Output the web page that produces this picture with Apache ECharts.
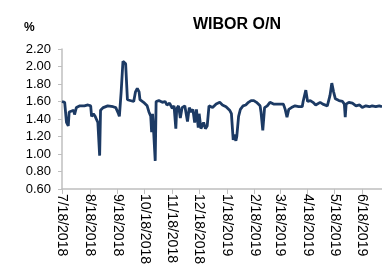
<!DOCTYPE html>
<html>
<head>
<meta charset="utf-8">
<script src="https://cdn.jsdelivr.net/npm/echarts@6/dist/echarts.min.js"></script>
<style>
  html, body { margin: 0; padding: 0; background: #fff; }
  #chart { width: 382px; height: 267px; }
</style>
</head>
<body>
<div id="chart"></div>
<script>
// tick labels on the date axis
const tickLabels = ['7/18/2018', '8/18/2018', '9/18/2018', '10/18/2018', '11/18/2018', '12/18/2018',
  '1/18/2019', '2/18/2019', '3/18/2019', '4/18/2019', '5/18/2019', '6/18/2019']

// WIBOR O/N
const dates = [
  '2018-07-18', '2018-07-21', '2018-07-23', '2018-07-25', '2018-07-26', '2018-07-28', '2018-07-31',
  '2018-08-01', '2018-08-03', '2018-08-07', '2018-08-12', '2018-08-16', '2018-08-19', '2018-08-20',
  '2018-08-22', '2018-08-24', '2018-08-25', '2018-08-27', '2018-08-29', '2018-08-30', '2018-09-02',
  '2018-09-07', '2018-09-13', '2018-09-16', '2018-09-19', '2018-09-20', '2018-09-22', '2018-09-24',
  '2018-09-26', '2018-09-27', '2018-09-29', '2018-09-30', '2018-10-06', '2018-10-08', '2018-10-10',
  '2018-10-12', '2018-10-13', '2018-10-17', '2018-10-21', '2018-10-23', '2018-10-25', '2018-10-26',
  '2018-10-27', '2018-10-28', '2018-10-30', '2018-10-31', '2018-11-03', '2018-11-07', '2018-11-10',
  '2018-11-12', '2018-11-15', '2018-11-18', '2018-11-20', '2018-11-22', '2018-11-23', '2018-11-25',
  '2018-11-27', '2018-11-29', '2018-12-02', '2018-12-05', '2018-12-07', '2018-12-09', '2018-12-11',
  '2018-12-13', '2018-12-15', '2018-12-17', '2018-12-18', '2018-12-20', '2018-12-23', '2018-12-25',
  '2018-12-27', '2018-12-29', '2019-01-02', '2019-01-06', '2019-01-10', '2019-01-13', '2019-01-17',
  '2019-01-21', '2019-01-23', '2019-01-25', '2019-01-26', '2019-01-28', '2019-01-29', '2019-01-31',
  '2019-02-02', '2019-02-05', '2019-02-08', '2019-02-11', '2019-02-14', '2019-02-17', '2019-02-20',
  '2019-02-24', '2019-02-25', '2019-02-27', '2019-03-01', '2019-03-04', '2019-03-07', '2019-03-11',
  '2019-03-17', '2019-03-22', '2019-03-24', '2019-03-26', '2019-03-28', '2019-03-31', '2019-04-04',
  '2019-04-08', '2019-04-12', '2019-04-13', '2019-04-16', '2019-04-18', '2019-04-21', '2019-04-24',
  '2019-04-27', '2019-04-29', '2019-05-02', '2019-05-05', '2019-05-07', '2019-05-10', '2019-05-13',
  '2019-05-15', '2019-05-17', '2019-05-19', '2019-05-23', '2019-05-27', '2019-05-29', '2019-05-30',
  '2019-05-31', '2019-06-03', '2019-06-07', '2019-06-11', '2019-06-15', '2019-06-18', '2019-06-22',
  '2019-06-26', '2019-06-29', '2019-07-03', '2019-07-07', '2019-07-10'
]
const wibor = [
  1.60, 1.59, 1.36, 1.32, 1.48, 1.50, 1.50,
  1.45, 1.53, 1.55, 1.55, 1.56, 1.55, 1.43,
  1.46, 1.43, 1.42, 1.36, 0.98, 1.50, 1.53,
  1.55, 1.54, 1.53, 1.46, 1.43, 1.71, 2.06,
  2.06, 2.03, 1.62, 1.60, 1.60, 1.71, 1.75,
  1.71, 1.62, 1.59, 1.55, 1.48, 1.43, 1.25,
  1.46, 1.30, 0.92, 1.60, 1.61, 1.59, 1.60,
  1.56, 1.58, 1.52, 1.55, 1.29, 1.52, 1.55,
  1.41, 1.53, 1.55, 1.37, 1.53, 1.48, 1.51,
  1.36, 1.51, 1.30, 1.46, 1.29, 1.36, 1.29,
  1.32, 1.55, 1.53, 1.57, 1.59, 1.56, 1.54,
  1.50, 1.46, 1.16, 1.22, 1.15, 1.20, 1.43,
  1.51, 1.55, 1.56, 1.59, 1.61, 1.61, 1.59,
  1.55, 1.48, 1.27, 1.53, 1.55, 1.59, 1.57,
  1.57, 1.57, 1.51, 1.42, 1.51, 1.53, 1.55,
  1.54, 1.54, 1.60, 1.73, 1.60, 1.61, 1.59,
  1.56, 1.57, 1.59, 1.57, 1.58, 1.55, 1.67,
  1.81, 1.71, 1.63, 1.61, 1.60, 1.57, 1.42,
  1.57, 1.59, 1.58, 1.55, 1.56, 1.53, 1.55,
  1.54, 1.55, 1.54, 1.55, 1.54
]

const FONT = 'Liberation Sans'
const DAY = 24 * 3600 * 1000

// m/d/yyyy or yyyy-mm-dd -> day number (UTC based, so no DST jumps)
function toDay (s) {
  let y, m, d
  if (s.indexOf('/') >= 0) {
    const p = s.split('/'); m = +p[0]; d = +p[1]; y = +p[2]
  } else {
    const p = s.split('-'); y = +p[0]; m = +p[1]; d = +p[2]
  }
  return Date.UTC(y, m - 1, d) / DAY
}
const tickDays = tickLabels.map(toDay)

const myChart = echarts.init(document.getElementById('chart'))
myChart.setOption({
  animation: false,
  title: [{
    text: 'WIBOR O/N',
    left: 232,
    top: 12,
    textAlign: 'center',
    textStyle: { fontFamily: FONT, fontSize: 16, fontWeight: 'bold', color: '#000' }
  }, {
    text: '%',
    left: 24,
    top: 22,
    padding: 0,
    textStyle: { fontFamily: FONT, fontSize: 12, fontWeight: 'bold', color: '#000' }
  }],
  grid: { left: 62, top: 49, right: 0, bottom: 67 },
  xAxis: {
    type: 'value',
    min: toDay('7/18/2018'),
    max: toDay('7/10/2019'),
    axisLine: { lineStyle: { color: '#bfbfbf', width: 1.5 } },
    axisTick: { show: true, length: 5, customValues: tickDays, lineStyle: { color: '#bfbfbf' } },
    splitLine: { show: false },
    axisLabel: {
      customValues: tickDays,
      rotate: -90,
      margin: 5,
      fontFamily: FONT,
      fontSize: 14,
      color: '#000',
      formatter: function (val) {
        return tickLabels[tickDays.indexOf(val)] || ''
      }
    }
  },
  yAxis: {
    type: 'value',
    min: 0.6,
    max: 2.2,
    interval: 0.2,
    axisLine: { show: true, lineStyle: { color: '#bfbfbf', width: 1.5 } },
    axisTick: { show: true, length: 4, lineStyle: { color: '#bfbfbf' } },
    splitLine: { show: false },
    axisLabel: {
      margin: 11,
      fontFamily: FONT,
      fontSize: 13,
      color: '#000',
      formatter: function (v) { return v.toFixed(2) }
    }
  },
  series: [{
    name: 'WIBOR O/N',
    type: 'line',
    showSymbol: false,
    data: dates.map(function (d, i) { return [toDay(d), wibor[i]] }),
    lineStyle: { color: '#1c3a64', width: 2.8 }
  }]
})
</script>
</body>
</html>
